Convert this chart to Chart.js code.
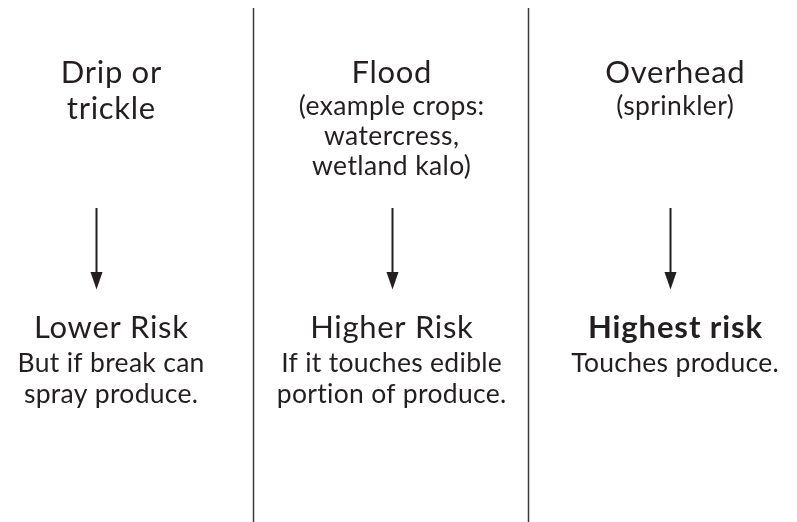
<!DOCTYPE html>
<html>
<head>
<meta charset="utf-8">
<script src="https://cdn.jsdelivr.net/npm/chart.js@4"></script>
<style>
html, body { margin: 0; padding: 0; background: #fff; }
</style>
</head>
<body>
<canvas id="chart" width="797" height="522"></canvas>
<script>
// irrigation methods and what they mean for risk
const methodLines = [['Drip or', 'trickle'], ['Flood'], ['Overhead']];
const exampleLines = [[], ['(example crops:', 'watercress,', 'wetland kalo)'], ['(sprinkler)']];
const riskLevels = ['Lower Risk', 'Higher Risk', 'Highest risk'];
const riskNotes = [['But if break can', 'spray produce.'], ['If it touches edible', 'portion of produce.'], ['Touches produce.']];

// layout, in units of the 797 x 522 frame
const textX = [111, 391.5, 675];
const arrowX = [96.5, 392.5, 670.5];
const dividerX = [253.5, 528.5];
const dividerTop = 8, dividerBottom = 522;
const arrowTop = 208, arrowTip = 289.5, headLen = 17.5, headHalf = 6;
const titleY = 82.5, titleStep = 36.5;
const exampleY = 114.5, exampleStep = 30;
const riskY = 338, noteY = 371.5, noteStep = 31;

const ink = '#231f20';
const fontFamily = 'Lato, "Noto Sans", sans-serif';
const titleFont = '31px ' + fontFamily;
const boldFont = '700 31px ' + fontFamily;
const smallFont = '26.5px ' + fontFamily;
const boldRisk = [false, false, true];

let datasets = [];
dividerX.forEach(x => {
	datasets.push({
		data: [{x: x, y: dividerTop}, {x: x, y: dividerBottom}],
		showLine: true, borderColor: '#3a3a3a', borderWidth: 1.5, pointRadius: 0
	});
});
arrowX.forEach(x => {
	datasets.push({
		data: [{x: x, y: arrowTop}, {x: x, y: arrowTip - headLen + 2}],
		showLine: true, borderColor: ink, borderWidth: 2, pointRadius: 0
	});
});

function drawLine(ctx, text, x, y, font, spacing) {
	ctx.font = font;
	ctx.letterSpacing = spacing + 'px';
	// letter spacing adds a trailing gap, shift to keep the text centred
	ctx.fillText(text, x + spacing / 2, y);
}

const labelsPlugin = {
	id: 'labels',
	afterDatasetsDraw(chart) {
		const ctx = chart.ctx;
		const sx = chart.scales.x, sy = chart.scales.y;
		ctx.save();
		ctx.fillStyle = ink;
		ctx.textAlign = 'center';
		ctx.textBaseline = 'alphabetic';
		arrowX.forEach(ax => {
			const px = sx.getPixelForValue(ax);
			const tip = sy.getPixelForValue(arrowTip);
			const base = sy.getPixelForValue(arrowTip - headLen);
			ctx.beginPath();
			ctx.moveTo(px, tip);
			ctx.lineTo(px - headHalf, base);
			ctx.lineTo(px + headHalf, base);
			ctx.closePath();
			ctx.fill();
		});
		textX.forEach((cx, i) => {
			const px = sx.getPixelForValue(cx);
			methodLines[i].forEach((t, k) => {
				drawLine(ctx, t, px, sy.getPixelForValue(titleY + k * titleStep), titleFont, 0.7);
			});
			exampleLines[i].forEach((t, k) => {
				drawLine(ctx, t, px, sy.getPixelForValue(exampleY + k * exampleStep), smallFont, 0.4);
			});
			if (boldRisk[i]) {
				drawLine(ctx, riskLevels[i], px, sy.getPixelForValue(riskY), boldFont, 0.9);
			} else {
				drawLine(ctx, riskLevels[i], px, sy.getPixelForValue(riskY), titleFont, 0.7);
			}
			riskNotes[i].forEach((t, k) => {
				drawLine(ctx, t, px, sy.getPixelForValue(noteY + k * noteStep), smallFont, 0.3);
			});
		});
		ctx.restore();
	}
};

new Chart(document.getElementById('chart').getContext('2d'), {
	type: 'scatter',
	data: { datasets: datasets },
	options: {
		responsive: false,
		animation: false,
		events: [],
		layout: { padding: 0 },
		plugins: { legend: { display: false }, tooltip: { enabled: false } },
		scales: {
			x: { type: 'linear', min: 0, max: 797, display: false },
			y: { type: 'linear', min: 0, max: 522, reverse: true, display: false }
		}
	},
	plugins: [labelsPlugin]
});
</script>
</body>
</html>
